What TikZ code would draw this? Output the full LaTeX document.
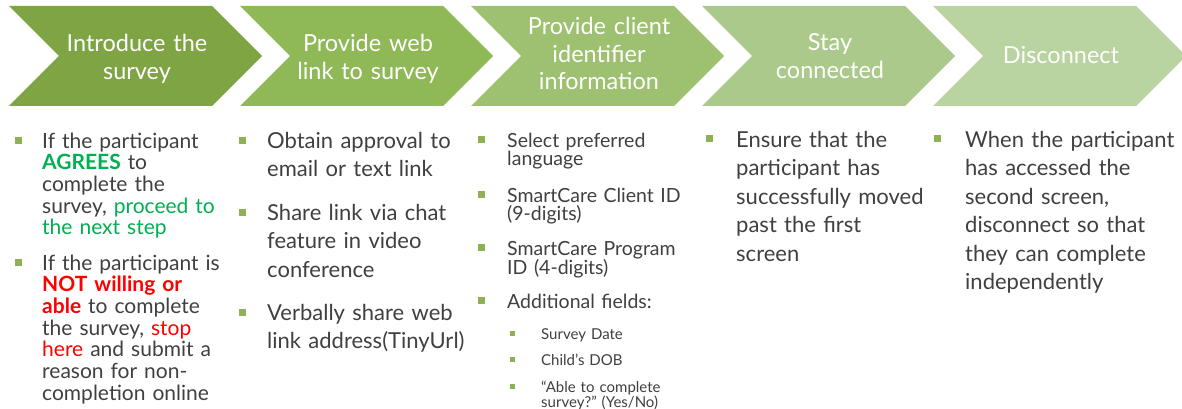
\documentclass[tikz,border=0pt]{standalone}
\usepackage{fontspec}
\setmainfont{Lato}
\usetikzlibrary{positioning}
\frenchspacing

\definecolor{stepA}{HTML}{7EA444}
\definecolor{stepB}{HTML}{8FB857}
\definecolor{stepC}{HTML}{9DC170}
\definecolor{stepD}{HTML}{ABC98A}
\definecolor{stepE}{HTML}{B9D3A1}
\definecolor{bulgreen}{HTML}{8DB255}
\definecolor{txtgray}{HTML}{404040}
\definecolor{okgreen}{HTML}{00B050}
\definecolor{nored}{HTML}{FF0000}

\begin{document}
\begin{tikzpicture}[x=1pt,y=-1pt,
    chevron/.pic={
        \fill[#1] (0,0) -- (203,0) -- (253,50) -- (203,100) -- (0,100) -- (50,50) -- cycle;
    },
    head/.style={anchor=base,inner sep=0,text width=210pt,align=center,text=white,
        font=\fontsize{23.5}{27.5}\selectfont},
    txt/.style={anchor=base west,inner sep=0,text width=220pt,align=left,text=txtgray},
    colA/.style={txt,font=\fontsize{21}{21.7}\selectfont},
    colB/.style={txt,font=\fontsize{22}{28.7}\selectfont},
    colC/.style={txt,font=\fontsize{19.5}{18.5}\selectfont},
    colS/.style={txt,font=\fontsize{15}{13}\selectfont},
    colD/.style={txt,font=\fontsize{22}{28.5}\selectfont},
    bul/.style={fill=bulgreen,minimum size=#1,inner sep=0},
    bul/.default=7pt
]
\fill[white] (0,0) rectangle (1182,409);
\useasboundingbox (0,0) rectangle (1182,409);

% the five steps
\foreach \n/\col/\yb/\txt in {0/stepA/52/{Introduce the\\survey},
    1/stepB/52/{Provide web\\link to survey},
    2/stepC/35/{Provide client\\identifier\\information},
    3/stepD/51/{Stay\\connected},
    4/stepE/64/{Disconnect}}{
    \pic at ({9+231*\n},6) {chevron=\col};
    \node[head] (h\n) at ({137+231*\n},\yb) {\txt};
}

% step 1
\node[colA] (a1) at (42,148) {If the participant\\
    {\bfseries\color{okgreen}AGREES} to\\ complete the\\
    survey, {\color{okgreen}proceed to}\\ {\color{okgreen}the next step}};
\node[colA] (a2) at (42,270) {If the participant is\\
    {\bfseries\color{nored}NOT willing or}\\ {\bfseries\color{nored}able} to complete\\
    the survey, {\color{nored}stop}\\ {\color{nored}here} and submit a\\
    reason for non-\\ completion online};
\node[bul] (ba1) at ([xshift=-23.5pt,yshift=7.5pt]a1.base west) {};
\node[bul] (ba2) at ([xshift=-23.5pt,yshift=7.5pt]a2.base west) {};

% step 2
\node[colB] (b1) at (267,148) {Obtain approval to\\ email or text link};
\node[colB] (b2) at (267,220) {Share link via chat\\ feature in video\\ conference};
\node[colB] (b3) at (267,320) {Verbally share web\\ link address(TinyUrl)};
\foreach \k in {1,2,3}
    \node[bul] (bb\k) at ([xshift=-24.5pt,yshift=7.5pt]b\k.base west) {};

% step 3
\node[colC] (c1) at (507,147) {Select preferred\\ language};
\node[colC] (c2) at (507,202) {SmartCare Client ID\\ (9-digits)};
\node[colC] (c3) at (507,255) {SmartCare Program\\ ID (4-digits)};
\node[colC] (c4) at (507,308) {Additional fields:};
\foreach \k in {1,...,4}
    \node[bul] (bc\k) at ([xshift=-25.5pt,yshift=7.5pt]c\k.base west) {};
\node[colS] (s1) at (541,339) {Survey Date};
\node[colS] (s2) at (541,365) {Child’s DOB};
\node[colS] (s3) at (541,392) {“Able to complete\\ survey?” (Yes/No)};
\foreach \k in {1,2,3}
    \node[bul=5pt] (bs\k) at ([xshift=-28.5pt,yshift=5.5pt]s\k.base west) {};

% step 4 and 5
\node[colD] (d1) at (736,147) {Ensure that the\\ participant has\\
    successfully moved\\ past the first\\ screen};
\node[colD] (e1) at (965,147) {When the participant\\ has accessed the\\
    second screen,\\ disconnect so that\\ they can complete\\ independently};
\node[bul] (bd1) at ([xshift=-27pt,yshift=8.5pt]d1.base west) {};
\node[bul] (be1) at ([xshift=-28pt,yshift=8.5pt]e1.base west) {};
\end{tikzpicture}
\end{document}
